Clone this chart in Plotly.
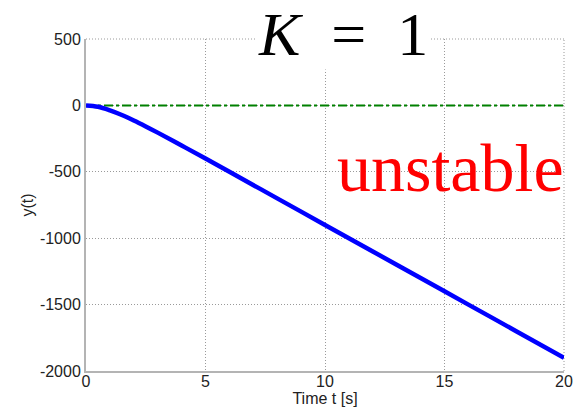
import plotly.graph_objects as go

# data
t_vals = [0, 0.5, 1, 1.5, 2, 2.5, 3, 4, 5, 6, 8, 10, 12, 14, 16, 18, 20]
y_vals = [0, -10, -37, -72, -113, -158, -205, -302, -400, -500, -700, -900,
          -1100, -1300, -1500, -1700, -1900]
ref_t = [0, 20]
ref_y = [0, 0]
x_ticks = [0, 5, 10, 15, 20]
y_ticks = [500, 0, -500, -1000, -1500, -2000]

SERIF = "Times New Roman, Times, Liberation Serif, DejaVu Serif, Noto Serif, serif"
SANS = "Liberation Sans"

fig = go.Figure()
fig.add_trace(go.Scatter(x=ref_t, y=ref_y, mode="lines",
                         line=dict(color="#008000", width=2, dash="dashdot"),
                         showlegend=False))
fig.add_trace(go.Scatter(x=t_vals, y=y_vals, mode="lines",
                         line=dict(color="#0000ff", width=4.5, shape="spline"),
                         showlegend=False))

GRID_DASH = "1px,2px"
axis_common = dict(showgrid=True, gridcolor="#9a9a9a", gridwidth=1, griddash=GRID_DASH,
                   showline=True, linecolor="#b4b4b4", linewidth=2,
                   zeroline=False, ticks="", mirror=False, automargin=False,
                   tickfont=dict(family=SANS, size=16, color="#222"))

fig.update_xaxes(range=[0, 20], tickvals=x_ticks, ticktext=[str(v) for v in x_ticks],
                 ticklabelstandoff=-5,
                 title=dict(text="Time t [s]", standoff=4,
                            font=dict(family=SANS, size=16, color="#222")),
                 **axis_common)
fig.update_yaxes(range=[-2000, 500], tickvals=y_ticks, ticktext=[str(v) for v in y_ticks],
                 title=dict(text="y(t)", standoff=2,
                            font=dict(family=SANS, size=16, color="#222")),
                 **axis_common)

# dotted border lines on top and right (grid at range ends)
fig.add_shape(type="line", xref="paper", yref="paper", x0=0, x1=1, y0=1, y1=1,
              line=dict(color="#9a9a9a", width=1, dash=GRID_DASH), layer="below")
fig.add_shape(type="line", xref="paper", yref="paper", x0=1, x1=1, y0=0, y1=1,
              line=dict(color="#9a9a9a", width=1, dash=GRID_DASH), layer="below")

fig.add_annotation(x=0.538, y=1.015, xref="paper", yref="paper",
                   text="<i>K</i>&nbsp; =&nbsp; 1", showarrow=False, bgcolor="white",
                   font=dict(family=SERIF, size=62, color="black"),
                   xanchor="center", yanchor="middle")
fig.add_annotation(x=1.004, y=0.611, xref="paper", yref="paper",
                   text="unstable", showarrow=False,
                   font=dict(family=SERIF, size=68, color="#ff0000"),
                   xanchor="right", yanchor="middle")

fig.update_layout(width=583, height=408, margin=dict(l=86, r=19, t=39, b=37),
                  plot_bgcolor="white", paper_bgcolor="white")

fig.write_html("out.html")
